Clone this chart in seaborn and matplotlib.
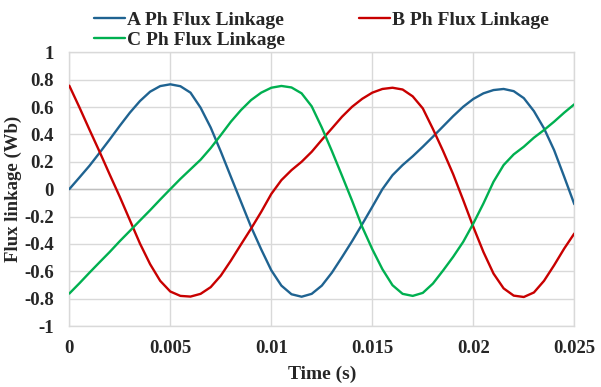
import numpy as np
import pandas as pd
import matplotlib
matplotlib.use("Agg")
import matplotlib.pyplot as plt
import seaborn as sns

time_s = [0.0, 0.0005, 0.001, 0.0015, 0.002, 0.0025, 0.003, 0.0035, 0.004, 0.0045,
          0.005, 0.0055, 0.006, 0.0065, 0.007, 0.0075, 0.008, 0.0085, 0.009, 0.0095,
          0.010, 0.0105, 0.011, 0.0115, 0.012, 0.0125, 0.013, 0.0135, 0.014, 0.0145,
          0.015, 0.0155, 0.016, 0.0165, 0.017, 0.0175, 0.018, 0.0185, 0.019, 0.0195,
          0.020, 0.0205, 0.021, 0.0215, 0.022, 0.0225, 0.023, 0.0235, 0.024, 0.0245,
          0.025]

a_flux = [0.0, 0.085, 0.171, 0.266, 0.363, 0.463, 0.559, 0.644, 0.712, 0.753,
          0.766, 0.752, 0.705, 0.595, 0.45, 0.275, 0.09, -0.093, -0.276, -0.44,
          -0.593, -0.705, -0.768, -0.786, -0.765, -0.705, -0.61, -0.497, -0.38, -0.256,
          -0.129, 0.0, 0.102, 0.176, 0.24, 0.31, 0.383, 0.458, 0.533, 0.602,
          0.659, 0.70, 0.724, 0.732, 0.716, 0.665, 0.57, 0.444, 0.285, 0.09,
          -0.11]

b_flux = [0.756, 0.598, 0.434, 0.273, 0.107, -0.056, -0.227, -0.398, -0.548, -0.67,
          -0.748, -0.78, -0.785, -0.765, -0.716, -0.632, -0.522, -0.404, -0.288, -0.166,
          -0.035, 0.066, 0.139, 0.20, 0.273, 0.36, 0.444, 0.529, 0.602, 0.66,
          0.705, 0.732, 0.741, 0.728, 0.678, 0.59, 0.44, 0.28, 0.11, -0.08,
          -0.276, -0.459, -0.617, -0.725, -0.778, -0.788, -0.755, -0.67, -0.556, -0.434,
          -0.324]

c_flux = [-0.763, -0.688, -0.61, -0.534, -0.459, -0.38, -0.305, -0.229, -0.154, -0.076,
          0.0, 0.075, 0.145, 0.215, 0.30, 0.395, 0.493, 0.578, 0.651, 0.705,
          0.741, 0.754, 0.743, 0.70, 0.605, 0.45, 0.278, 0.098, -0.085, -0.276,
          -0.439, -0.585, -0.702, -0.765, -0.78, -0.758, -0.69, -0.595, -0.495, -0.385,
          -0.251, -0.105, 0.054, 0.176, 0.254, 0.31, 0.376, 0.432, 0.493, 0.559,
          0.62]

series_names = ["A Ph Flux Linkage", "B Ph Flux Linkage", "C Ph Flux Linkage"]
series_colors = ["#1F6391", "#C80000", "#00B050"]

x_ticks = [0, 0.005, 0.01, 0.015, 0.02, 0.025]
x_tick_labels = ["0", "0.005", "0.01", "0.015", "0.02", "0.025"]
y_ticks = [-1, -0.8, -0.6, -0.4, -0.2, 0, 0.2, 0.4, 0.6, 0.8, 1]
y_tick_labels = ["-1", "-0.8", "-0.6", "-0.4", "-0.2", "0", "0.2", "0.4", "0.6", "0.8", "1"]

df = pd.DataFrame({
    "Time (s)": time_s * 3,
    "Flux": a_flux + b_flux + c_flux,
    "Series": [series_names[0]] * len(time_s) + [series_names[1]] * len(time_s)
              + [series_names[2]] * len(time_s),
})

sns.set_style("white")
plt.rcParams["font.family"] = ["Liberation Serif", "DejaVu Serif"]
plt.rcParams["font.weight"] = "bold"

fig = plt.figure(figsize=(6.01, 3.87), dpi=100)
ax = fig.add_axes([0.1153, 0.1576, 0.8403, 0.7073])

sns.lineplot(data=df, x="Time (s)", y="Flux", hue="Series",
             palette=dict(zip(series_names, series_colors)),
             linewidth=1.7, ax=ax, legend=False, zorder=3)
for ln in ax.get_lines():
    ln.set_solid_joinstyle("round")
    ln.set_solid_capstyle("round")

ax.set_xlim(0, 0.025)
ax.set_ylim(-1, 1)
ax.set_xticks(x_ticks)
ax.set_xticklabels(x_tick_labels)
ax.set_yticks(y_ticks)
ax.set_yticklabels(y_tick_labels)
ax.tick_params(axis="both", length=0, labelsize=13.5)
ax.tick_params(axis="x", pad=10)
ax.tick_params(axis="y", pad=11)
for lab in ax.get_xticklabels() + ax.get_yticklabels():
    lab.set_fontweight("bold")

ax.grid(True, color="#D9D9D9", linewidth=1.0, zorder=0)
ax.set_axisbelow(True)
ax.axhline(0, color="#BFBFBF", linewidth=1.0, zorder=1)
for s in ax.spines.values():
    s.set_color("#D9D9D9")
    s.set_linewidth(1.0)

ax.set_xlabel("Time (s)", fontsize=14, fontweight="bold", labelpad=6)
ax.set_ylabel("Flux linkage (Wb)", fontsize=13.5, fontweight="bold",
              va="center", ha="center")
ax.yaxis.set_label_coords(-0.1115, 0.5)

handles = [plt.Line2D([], [], color=c, linewidth=1.7) for c in series_colors]
order = [0, 2, 1]
fig.legend([handles[i] for i in order], [series_names[i] for i in order],
           loc="upper center", bbox_to_anchor=(0.535, 1.005), ncol=2,
           frameon=False, handlelength=1.6, handletextpad=0.1,
           columnspacing=3.8, labelspacing=0.1, borderpad=0.2,
           prop={"weight": "bold", "size": 14})

fig.savefig("out.png", dpi=100)
